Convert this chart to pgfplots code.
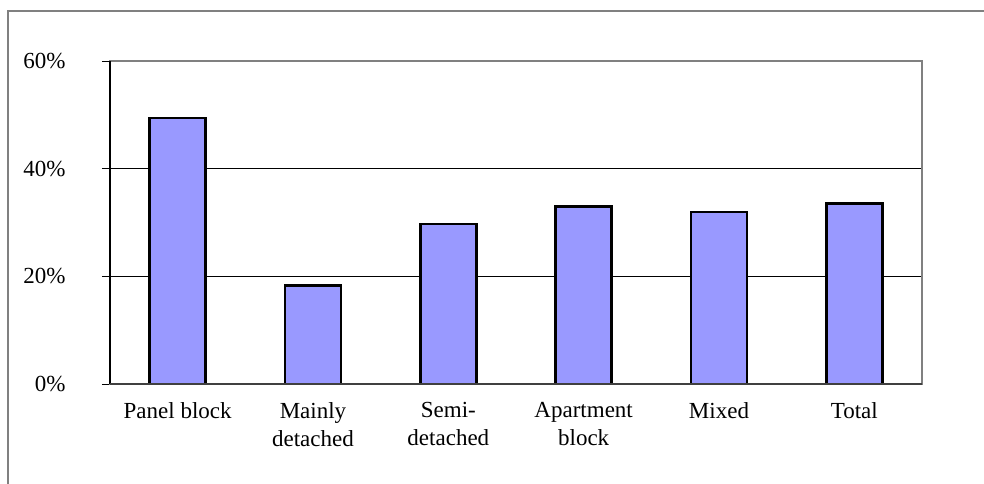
\documentclass[border=0pt]{standalone}
\usepackage{pgfplots}
\pgfplotsset{compat=1.18}
\usepackage{fontspec}
\setmainfont{Liberation Serif}
\definecolor{barblue}{RGB}{153,153,255}
\definecolor{framegray}{RGB}{128,128,128}
\begin{document}
\begin{tikzpicture}
\useasboundingbox (-110bp,-100bp) rectangle (874bp,384bp);
% outer chart frame (only left and top edges visible)
\draw[framegray, line width=1.2bp] (-102bp,-100bp) -- (-102bp,373bp) -- (874bp,373bp);
\begin{axis}[
    at={(0,0)}, anchor=south west,
    scale only axis,
    width=812bp, height=323bp,
    xmin=-0.5, xmax=5.5,
    ymin=0, ymax=60,
    ytick={0,20,40,60},
    yticklabels={0\%,20\%,40\%,60\%},
    xtick=data,
    xticklabels={Panel block, Mainly\\detached, Semi-\\detached, Apartment\\block, Mixed, Total},
    xticklabel style={align=center, yshift=-7bp},
    x tick style={draw=none},
    ytick pos=left,
    tick align=outside,
    major tick length=8bp,
    y tick style={black, line width=1bp},
    yticklabel style={xshift=-33bp},
    every tick label/.append style={font=\fontsize{23bp}{28bp}\selectfont},
    ymajorgrids=true,
    grid style={black, line width=1bp},
    axis line style={framegray, line width=1.5bp},
    ybar,
    bar width=56bp,
    clip=false,
]
\addplot[fill=barblue, draw=black, line width=2.4bp]
    coordinates {(0,49.4) (1,18.3) (2,29.7) (3,33.0) (4,31.9) (5,33.5)};
\draw[black, line width=1.2bp] (rel axis cs:0,0) -- (rel axis cs:0,1);
\draw[black!75, line width=1.2bp] (rel axis cs:0,0) -- (rel axis cs:1,0);
\end{axis}
\end{tikzpicture}
\end{document}
